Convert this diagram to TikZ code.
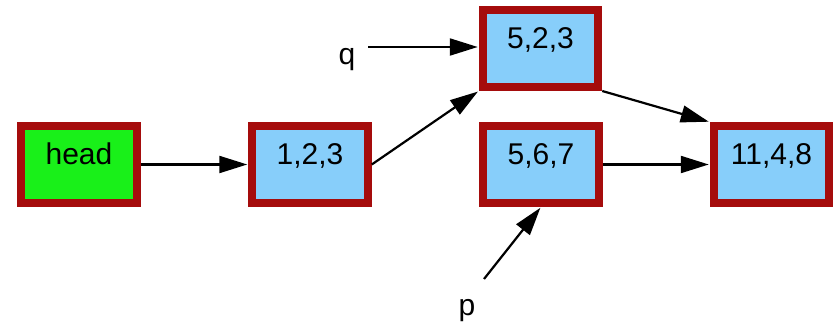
\documentclass[tikz,border=0pt]{standalone}
\usepackage{fontspec}
\setmainfont{Liberation Sans}
\usetikzlibrary{arrows.meta}
\definecolor{boxred}{RGB}{165,12,12}
\definecolor{boxblue}{RGB}{135,206,250}
\definecolor{boxgreen}{RGB}{25,240,25}
\begin{document}
\begin{tikzpicture}[x=1pt,y=-1pt,
  listbox/.style={draw=boxred, line width=8pt, fill=boxblue, rectangle,
    minimum width=115.5pt, inner sep=0pt, text height=38.5pt, text depth=38.5pt,
    font=\fontsize{30}{36}\selectfont, text=black},
  ptr/.style={font=\fontsize{30}{36}\selectfont, inner sep=0pt, anchor=base},
  link/.style={line width=2.2pt, -{Triangle[length=28pt,width=17pt]}, shorten >=1pt}]
\useasboundingbox (0,0) rectangle (839,326);
\node[listbox, fill=boxgreen] (head) at (79,164.5) {head};
\node[listbox] (n123) at (310,164.5) {1,2,3};
\node[listbox] (n523) at (540.5,48.5) {5,2,3};
\node[listbox] (n567) at (541,164.5) {5,6,7};
\node[listbox] (n1148) at (771.5,164.5) {11,4,8};
\node[ptr] (q) at (347,65) {q};
\node[ptr] (p) at (467,315) {p};
\coordinate (qs) at (368,47);
\coordinate (ps) at (484,279);
\draw[link] (head.east) -- (n123.west);
\draw[link] (qs) -- (qs -| n523.west);
\draw[link] (n123.east) -- (n523.south west);
\draw[link] (n523.south east) -- (n1148.north west);
\draw[link] (n567.east) -- (n1148.west);
\draw[link] (ps) -- (n567.south);
\end{tikzpicture}
\end{document}
